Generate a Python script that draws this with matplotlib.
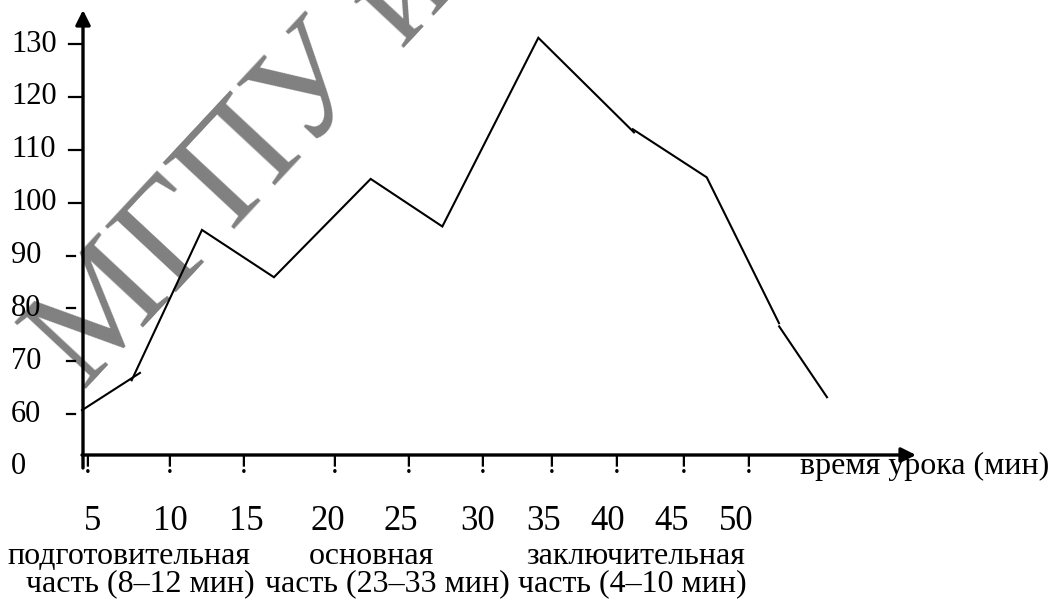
import matplotlib
matplotlib.use('Agg')
import matplotlib.pyplot as plt

plt.rcParams['font.family'] = ['Liberation Serif', 'DejaVu Serif']

# пульс по ходу урока (ось времени - условные деления рисунка)
time_a = [0.0, 3.84]
pulse_a = [60.75, 67.8]
time_b = [3.29, 7.95, 12.72, 19.13, 23.88, 30.24, 36.58]
pulse_b = [66.4, 94.85, 85.9, 104.5, 95.5, 131.2, 113.3]
time_c = [36.5, 41.4, 46.19]
pulse_c = [113.9, 104.8, 77.2]
time_d = [46.2, 49.37]
pulse_d = [76.6, 63.2]

y_labels = ['0', '60', '70', '80', '90', '100', '110', '120', '130']
y_values = [50, 60, 70, 80, 90, 100, 110, 120, 130]   # "0" стоит на месте разрыва оси
x_labels = ['5', '10', '15', '20', '25', '30', '35', '40', '45', '50']
parts = ['подготовительная', 'основная', 'заключительная']
parts_time = ['часть (8–12 мин)', 'часть (23–33 мин)', 'часть (4–10 мин)']
x_title = 'время урока (мин)'
watermark = 'МГПУ им. И. П. Шамякина'

# раскладка (пиксели -> единицы осей)
SX = 15.09    # пикселей на единицу по x
SY = 5.286    # пикселей на единицу по y
X0, Y0 = 82, 467


def ux(px):
    return (px - X0) / SX


def vy(py):
    return 50 + (Y0 - py) / SY


fig = plt.figure(figsize=(10.56, 6.12), dpi=100)
ax = fig.add_axes([0, 0, 1, 1])
ax.set_xlim(ux(0), ux(1056))
ax.set_ylim(vy(612), vy(0))
ax.axis('off')

# водяной знак
ax.text(ux(84), vy(392), watermark, rotation=47, rotation_mode='anchor',
        ha='left', va='baseline', fontsize=107, color='#808080', zorder=0,
        clip_on=True)

# оси со стрелками
ax.annotate('', xy=(ux(916), vy(455)), xytext=(ux(82), vy(455)),
            arrowprops=dict(arrowstyle='-|>', lw=2.4, color='k', mutation_scale=22,
                            shrinkA=0, shrinkB=0), zorder=3)
ax.annotate('', xy=(ux(83), vy(10)), xytext=(ux(83), vy(468)),
            arrowprops=dict(arrowstyle='-|>', lw=2.4, color='k', mutation_scale=22,
                            shrinkA=0, shrinkB=0), zorder=3)

# деления и подписи оси y
for lab, val in zip(y_labels, y_values):
    ax.text(ux(11), val, lab, ha='left', va='center', fontsize=22, zorder=4)
    if val >= 100:
        ax.plot([ux(69), ux(82)], [val, val], color='k', lw=1.6)
    elif val > 50:
        ax.plot([ux(67), ux(75)], [val, val], color='k', lw=1.6)

# "!" под осью x и подписи минут
mark_px = [88, 170, 244, 335, 409, 483, 552, 617, 684, 749]
num_px = [93, 170, 246, 328, 401, 478, 544, 608, 672, 736]
for mp, npx, lab in zip(mark_px, num_px, x_labels):
    ax.text(ux(mp), vy(466), '!', ha='center', va='center', fontsize=21)
    ax.text(ux(npx), vy(522), lab, ha='center', va='center', fontsize=25)

ax.text(ux(800), vy(466), x_title, ha='left', va='center', fontsize=23)

for cx, lab in zip([129, 371, 636], parts):
    ax.text(ux(cx), vy(557), lab, ha='center', va='center', fontsize=23)
for cx, lab in zip([140, 387, 632], parts_time):
    ax.text(ux(cx), vy(584), lab, ha='center', va='center', fontsize=23)

# кривая пульса
for t, p in [(time_a, pulse_a), (time_b, pulse_b), (time_c, pulse_c), (time_d, pulse_d)]:
    ax.plot(t, p, color='k', lw=1.5, zorder=2, solid_joinstyle='miter')

fig.savefig('out.png', dpi=100)
